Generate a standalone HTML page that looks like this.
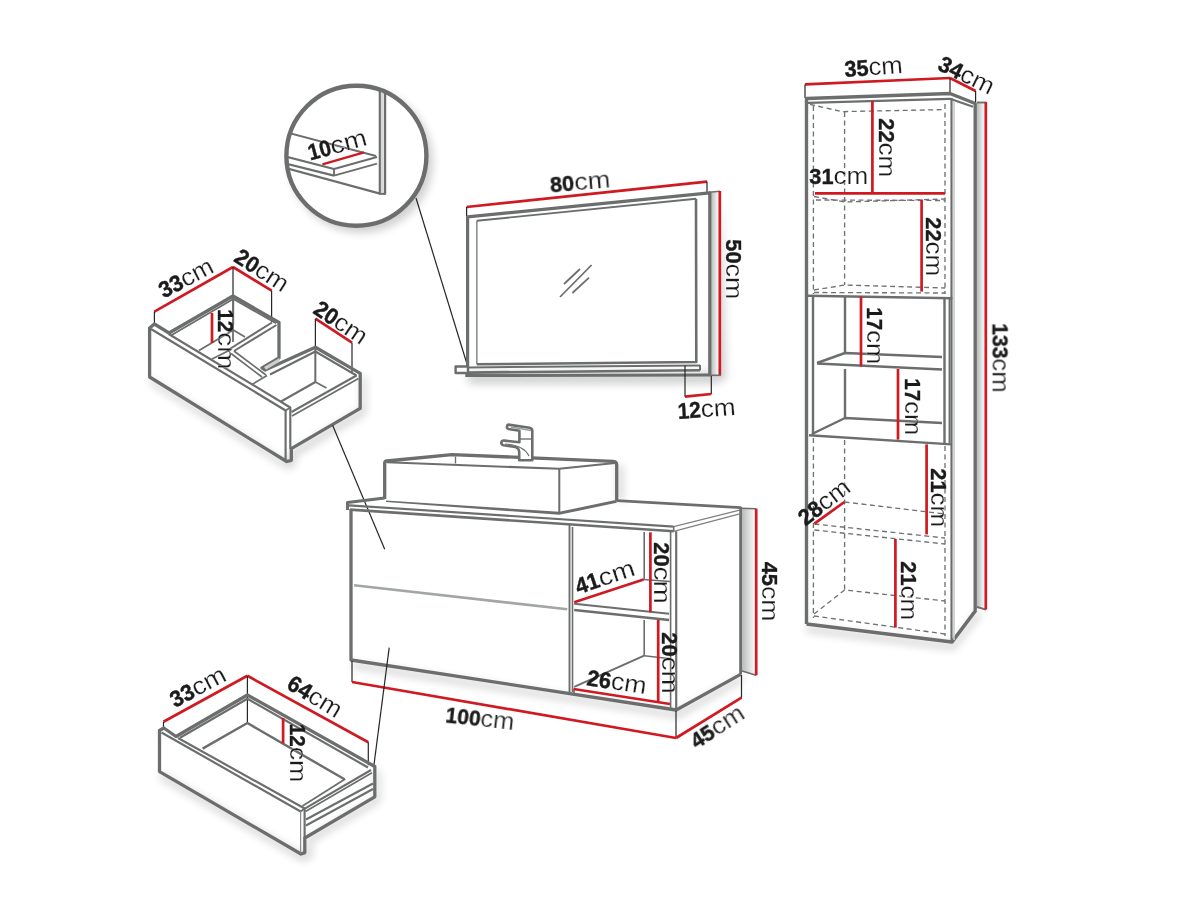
<!DOCTYPE html>
<html lang="en">
<head>
<meta charset="utf-8">
<title>Bathroom furniture set dimensions</title>
<style>
html,body{margin:0;padding:0;background:#fff;}
body{width:1200px;height:900px;overflow:hidden;}
svg{display:block;}
text{font-family:"Liberation Sans",sans-serif;}
.n{font-weight:700;stroke:#1a1a1a;stroke-width:.4px;}
.u{font-weight:400;stroke:#fff;stroke-width:.22px;}
</style>
</head>
<body>
<svg width="1200" height="900" viewBox="0 0 1200 900" stroke-linejoin="round">
<defs>
<filter id="sh" x="-20%" y="-20%" width="140%" height="140%"><feGaussianBlur stdDeviation="4"/></filter>
<filter id="sh2" x="-20%" y="-20%" width="140%" height="140%"><feGaussianBlur stdDeviation="2.5"/></filter>
<clipPath id="cc"><circle cx="356.4" cy="155.8" r="69"/></clipPath>
<linearGradient id="side" x1="0" x2="1" y1="0" y2="0"><stop offset="0" stop-color="#b9bbbb"/><stop offset="1" stop-color="#ffffff"/></linearGradient>
</defs>
<rect width="1200" height="900" fill="#ffffff"/>
<g fill="#000" opacity=".18" filter="url(#sh)">
<circle cx="361" cy="161" r="72"/>
<polygon points="468,372 712,372 722,195 726,380 712,384 468,384"/>
<polygon points="150,378 287,462 291,451 361,409 361,374 366,378 366,414 296,456 294,468 286,468 150,384"/>
<polygon points="160,772 302,854 307,853 307,838 375,798 375,768 380,772 380,802 312,842 312,858 302,861 160,779"/>
<polygon points="352,662 676,712 741,676 745,680 678,718 352,668"/>
<polygon points="806,626 952,644 977,611 982,614 954,650 806,632"/>
<polygon points="617,463 623,467 623,501 617,501"/>
</g>
<circle cx="356.4" cy="155.8" r="70" fill="#fff" stroke="#6c6e6e" stroke-width="4.4"/>
<g clip-path="url(#cc)">
<line x1="379.8" y1="85" x2="379.8" y2="193.5" stroke="#6c6e6e" stroke-width="2.16" />
<line x1="385" y1="85" x2="385" y2="194" stroke="#6c6e6e" stroke-width="2.43" />
<line x1="382" y1="90" x2="382" y2="192" stroke="#b5b7b7" stroke-width="1.08" />
<line x1="379" y1="193.6" x2="385.8" y2="194" stroke="#6c6e6e" stroke-width="2.16" />
<line x1="286" y1="168" x2="380" y2="193.6" stroke="#6c6e6e" stroke-width="2.16" />
<line x1="284" y1="131.8" x2="376" y2="156" stroke="#6c6e6e" stroke-width="1.89" />
<line x1="280" y1="155" x2="334" y2="169" stroke="#6c6e6e" stroke-width="2.16" />
<line x1="280" y1="162" x2="334" y2="175.6" stroke="#6c6e6e" stroke-width="2.16" />
<line x1="334" y1="169" x2="377" y2="157" stroke="#6c6e6e" stroke-width="1.89" />
<line x1="334" y1="175.6" x2="377" y2="163.6" stroke="#6c6e6e" stroke-width="1.89" />
<line x1="334" y1="169" x2="334" y2="175.6" stroke="#6c6e6e" stroke-width="1.89" />
</g>
<line x1="322.4" y1="164.4" x2="364" y2="152.4" stroke="#cf1a22" stroke-width="2.2" stroke-linecap="butt"/>
<line x1="416" y1="198" x2="467" y2="364" stroke="#262626" stroke-width="1.2" />
<polygon points="711,192.3 719,191.3 719,375 711,375" fill="url(#side)"/>
<line x1="466.6" y1="207" x2="707" y2="181.6" stroke="#cf1a22" stroke-width="2.7" stroke-linecap="butt"/>
<line x1="466.6" y1="207" x2="466.6" y2="216" stroke="#262626" stroke-width="1.2" />
<line x1="707" y1="181.6" x2="707" y2="192" stroke="#262626" stroke-width="1.2" />
<polyline points="467.6,366 467.6,216.8 709.8,192.8 709.8,376" fill="none" stroke="#6c6e6e" stroke-width="3.2" />
<polyline points="476.8,364.3 476.8,220.8" fill="none" stroke="#8d9091" stroke-width="1.62" />
<polyline points="476.8,220.8 696,198.8" fill="none" stroke="#6c6e6e" stroke-width="1.89" />
<polyline points="696,198.8 696.3,362 476.8,364.3" fill="none" stroke="#6c6e6e" stroke-width="2.6" />
<line x1="709" y1="192.3" x2="720" y2="191.3" stroke="#6c6e6e" stroke-width="1.62" />
<line x1="719.8" y1="191" x2="719.8" y2="375.5" stroke="#cf1a22" stroke-width="2.7" stroke-linecap="butt"/>
<line x1="711" y1="375.3" x2="721" y2="375.3" stroke="#6c6e6e" stroke-width="1.62" />
<line x1="564" y1="284" x2="580" y2="269" stroke="#6c6e6e" stroke-width="1.76" />
<line x1="560" y1="297" x2="591.6" y2="265" stroke="#6c6e6e" stroke-width="1.76" />
<line x1="572.4" y1="293" x2="589" y2="277.6" stroke="#6c6e6e" stroke-width="1.76" />
<polygon points="455.6,366.5 468,366.5 468,373 455.6,373" fill="#fff" stroke="#6c6e6e" stroke-width="2.4" />
<line x1="468" y1="367.4" x2="700" y2="365.4" stroke="#6c6e6e" stroke-width="2.03" />
<line x1="468" y1="372.6" x2="700" y2="370.2" stroke="#6c6e6e" stroke-width="2.6" />
<line x1="700" y1="365" x2="700" y2="370.5" stroke="#6c6e6e" stroke-width="2.03" />
<line x1="465.3" y1="375.6" x2="711" y2="375" stroke="#6c6e6e" stroke-width="3" />
<line x1="685" y1="365.5" x2="685" y2="396.7" stroke="#262626" stroke-width="1.2" />
<line x1="711.3" y1="376" x2="711.3" y2="394" stroke="#262626" stroke-width="1.2" />
<line x1="685" y1="396.7" x2="711.3" y2="394" stroke="#cf1a22" stroke-width="2.7" stroke-linecap="butt"/>
<line x1="154.4" y1="311.6" x2="233" y2="267" stroke="#cf1a22" stroke-width="2.7" stroke-linecap="butt"/>
<line x1="233" y1="267" x2="271.6" y2="290.6" stroke="#cf1a22" stroke-width="2.7" stroke-linecap="butt"/>
<line x1="315.4" y1="318.7" x2="352" y2="342.7" stroke="#cf1a22" stroke-width="2.7" stroke-linecap="butt"/>
<line x1="154.4" y1="311.6" x2="154.4" y2="324" stroke="#262626" stroke-width="1.2" />
<line x1="233" y1="267" x2="233" y2="342" stroke="#262626" stroke-width="1.2" />
<line x1="271.6" y1="290.6" x2="271.6" y2="322" stroke="#262626" stroke-width="1.2" />
<line x1="315.4" y1="318.7" x2="315.4" y2="381" stroke="#262626" stroke-width="1.2" />
<line x1="352" y1="342.7" x2="352" y2="374" stroke="#262626" stroke-width="1.2" />
<polygon points="149.6,328 154.4,324 169,333 233,296 279,322.5 279,358 262,368 265,370 315.4,347.3 360.2,373.4 360.2,408.4 291.3,448.7 291.3,460.3 286.7,461.5 149.6,377" fill="none" stroke="#6c6e6e" stroke-width="3.3" />
<polyline points="151,329 285.6,410.5 285.6,460.5" fill="none" stroke="#6c6e6e" stroke-width="2.16" />
<polyline points="168.7,334 290.3,407.5 290.3,449" fill="none" stroke="#6c6e6e" stroke-width="2.16" />
<line x1="285.6" y1="410.5" x2="290.3" y2="407.5" stroke="#6c6e6e" stroke-width="1.62" />
<polygon points="266,369.8 279.5,361.8 279.5,358 264,367" fill="#cdcfcf"/>
<polyline points="171.3,335.3 233.3,299 276,323.3" fill="none" stroke="#6c6e6e" stroke-width="1.89" />
<line x1="233.3" y1="298" x2="233.3" y2="325" stroke="#6c6e6e" stroke-width="1.76" />
<polyline points="272,322.5 230.5,348.5" fill="none" stroke="#6c6e6e" stroke-width="2.03" />
<polyline points="276.5,325 234,351" fill="none" stroke="#6c6e6e" stroke-width="2.03" />
<polyline points="199,350.5 233.3,330 245,337" fill="none" stroke="#6c6e6e" stroke-width="1.76" />
<polyline points="212,359 232,349" fill="none" stroke="#6c6e6e" stroke-width="1.62" />
<line x1="212" y1="313" x2="212" y2="343" stroke="#cf1a22" stroke-width="2.7" stroke-linecap="butt"/>
<polyline points="234,351 266,375" fill="none" stroke="#6c6e6e" stroke-width="1.76" />
<polyline points="231,353.5 262,377" fill="none" stroke="#6c6e6e" stroke-width="1.62" />
<polyline points="252,384.5 267,375.5" fill="none" stroke="#6c6e6e" stroke-width="1.62" />
<polyline points="270,374.5 315.4,351.5 356.5,375.5" fill="none" stroke="#6c6e6e" stroke-width="2.03" />
<line x1="315.4" y1="349" x2="315.4" y2="382" stroke="#6c6e6e" stroke-width="1.89" />
<polyline points="315.4,382 281,401.5" fill="none" stroke="#6c6e6e" stroke-width="2.03" />
<polyline points="315.4,382 326.5,388" fill="none" stroke="#6c6e6e" stroke-width="1.76" />
<polyline points="356.5,375.5 291.5,412" fill="none" stroke="#6c6e6e" stroke-width="2.03" />
<polyline points="358.5,378.5 292,416" fill="none" stroke="#6c6e6e" stroke-width="1.76" />
<line x1="332.6" y1="425.3" x2="384.7" y2="549.3" stroke="#262626" stroke-width="1.2" />
<polygon points="742,508.5 756,509 756,675 742,671" fill="url(#side)"/>
<line x1="741" y1="508.3" x2="756.2" y2="508.8" stroke="#6c6e6e" stroke-width="1.62" />
<line x1="742" y1="671" x2="756.2" y2="675.3" stroke="#6c6e6e" stroke-width="1.62" />
<line x1="756.2" y1="508.6" x2="756.2" y2="675.3" stroke="#cf1a22" stroke-width="2.7" stroke-linecap="butt"/>
<path d="M384.7,499 L384.7,463.2 Q384.7,461.2 386.7,461 L452,454.6 L613.2,461.3 Q616.7,461.5 616.7,465 L616.7,501.3" fill="none" stroke="#6c6e6e" stroke-width="3.3"/>
<polygon points="386,500.6 559.3,511.8 616.7,499.8 616.7,502.8 559.3,514.8 386,502" fill="#6c6e6e"/>
<polyline points="387,462.3 559.3,468.8 615,463" fill="none" stroke="#6c6e6e" stroke-width="2.03" />
<line x1="455.5" y1="456.5" x2="455.5" y2="463.5" stroke="#6c6e6e" stroke-width="1.35" />
<line x1="559.3" y1="468.8" x2="559.3" y2="513.3" stroke="#6c6e6e" stroke-width="2.03" />
<path d="M508.3,424.6 L529.5,427.8 Q532.3,428.3 532.3,431 L532.3,460.2 L519.2,460.2 L519.2,452 Q519,447.5 514,446.8 L503.5,445.3 Q501,444.8 501.4,442.3 Q501.8,440.3 504.5,440.6 L519.4,442.2 L519.4,430.8 L508.5,429 Q506.6,428.6 507,426.3 Q507.3,424.5 508.3,424.6 Z" fill="#fff" stroke="#6c6e6e" stroke-width="2.6"/>
<line x1="520" y1="439" x2="531" y2="439" stroke="#6c6e6e" stroke-width="1.35" />
<line x1="511" y1="427" x2="531" y2="430.5" stroke="#9a9d9d" stroke-width="1.35" />
<path d="M505,444 Q524,445 529,456" fill="none" stroke="#6c6e6e" stroke-width="1.2"/>
<polyline points="384.7,498 347.5,502.6 347.5,510" fill="none" stroke="#6c6e6e" stroke-width="3" />
<line x1="349" y1="505.3" x2="673.7" y2="526.7" stroke="#6c6e6e" stroke-width="2.16" />
<line x1="350" y1="509.6" x2="673.7" y2="531.3" stroke="#6c6e6e" stroke-width="2.6" />
<polyline points="617,500.7 740.6,507.6 740.6,674.4" fill="none" stroke="#6c6e6e" stroke-width="2.8" />
<line x1="673.7" y1="526.7" x2="740.6" y2="509.8" stroke="#808282" stroke-width="1.35" />
<line x1="673.7" y1="531.3" x2="740.6" y2="513.6" stroke="#808282" stroke-width="1.35" />
<line x1="673.7" y1="526.7" x2="673.7" y2="531.3" stroke="#6c6e6e" stroke-width="1.62" />
<polyline points="351,509 351,660 676.2,710 740.6,674.4" fill="none" stroke="#6c6e6e" stroke-width="3.3" />
<line x1="676.2" y1="531.3" x2="676.2" y2="710" stroke="#6c6e6e" stroke-width="2.16" />
<line x1="354" y1="585.3" x2="567.3" y2="609.3" stroke="#a3a6a6" stroke-width="2.6" />
<line x1="569.5" y1="525" x2="569.5" y2="694" stroke="#6c6e6e" stroke-width="1.89" />
<line x1="572.5" y1="527" x2="572.5" y2="692" stroke="#6c6e6e" stroke-width="1.62" />
<line x1="670.6" y1="531" x2="670.6" y2="708" stroke="#6c6e6e" stroke-width="1.62" />
<line x1="644.2" y1="532" x2="644.2" y2="580" stroke="#6c6e6e" stroke-width="1.62" />
<line x1="644.2" y1="620" x2="644.2" y2="655.7" stroke="#6c6e6e" stroke-width="1.62" />
<line x1="574.2" y1="603.8" x2="669.1" y2="613.7" stroke="#6c6e6e" stroke-width="1.89" />
<line x1="574.2" y1="610" x2="669.1" y2="620" stroke="#6c6e6e" stroke-width="2.43" />
<line x1="643.6" y1="579.5" x2="670" y2="581.5" stroke="#6c6e6e" stroke-width="1.62" />
<line x1="644.2" y1="655.7" x2="574.2" y2="686.8" stroke="#6c6e6e" stroke-width="1.89" />
<line x1="644.2" y1="655.7" x2="670.6" y2="658.8" stroke="#6c6e6e" stroke-width="1.62" />
<line x1="574" y1="689" x2="574" y2="694" stroke="#6c6e6e" stroke-width="1.62" />
<line x1="352" y1="661" x2="352" y2="682" stroke="#262626" stroke-width="1.2" />
<line x1="676" y1="711" x2="676" y2="738" stroke="#262626" stroke-width="1.2" />
<line x1="741.5" y1="675" x2="741.5" y2="697.7" stroke="#262626" stroke-width="1.2" />
<line x1="352" y1="682" x2="676" y2="738" stroke="#cf1a22" stroke-width="2.7" stroke-linecap="butt"/>
<line x1="676" y1="738" x2="741.5" y2="697.7" stroke="#cf1a22" stroke-width="2.7" stroke-linecap="butt"/>
<line x1="574.2" y1="602.2" x2="643.6" y2="579.5" stroke="#cf1a22" stroke-width="2.7" stroke-linecap="butt"/>
<line x1="573.6" y1="689" x2="670" y2="704" stroke="#cf1a22" stroke-width="2.7" stroke-linecap="butt"/>
<line x1="650.4" y1="532.3" x2="650.4" y2="612.2" stroke="#cf1a22" stroke-width="2.7" stroke-linecap="butt"/>
<line x1="658.2" y1="620" x2="658.2" y2="702.4" stroke="#cf1a22" stroke-width="2.7" stroke-linecap="butt"/>
<polygon points="977,103 985,103 985,609.6 977,607" fill="url(#side)"/>
<line x1="805" y1="84.4" x2="950" y2="78" stroke="#cf1a22" stroke-width="2.7" stroke-linecap="butt"/>
<line x1="950" y1="78" x2="975.6" y2="91" stroke="#cf1a22" stroke-width="2.7" stroke-linecap="butt"/>
<line x1="805" y1="84.4" x2="805" y2="98" stroke="#262626" stroke-width="1.2" />
<line x1="950" y1="78" x2="950" y2="94" stroke="#262626" stroke-width="1.2" />
<line x1="975.6" y1="91" x2="975.6" y2="102" stroke="#262626" stroke-width="1.2" />
<polyline points="806.5,624 806.5,98.5 950,93.5 975.2,103.5 975.2,610" fill="none" stroke="#6c6e6e" stroke-width="3.4" />
<polyline points="806.5,624 952,642 976,610" fill="none" stroke="#6c6e6e" stroke-width="3.6" />
<polyline points="808,102.8 950,98.8 973,106.8" fill="none" stroke="#6c6e6e" stroke-width="2.16" />
<line x1="951.5" y1="98" x2="951.5" y2="642" stroke="#6c6e6e" stroke-width="2.16" />
<line x1="954" y1="101" x2="954" y2="640" stroke="#c9cbcb" stroke-width="1.62" />
<line x1="977" y1="102.5" x2="986" y2="102.5" stroke="#6c6e6e" stroke-width="1.89" />
<line x1="977" y1="607" x2="986" y2="609.6" stroke="#6c6e6e" stroke-width="1.89" />
<line x1="985.8" y1="102" x2="985.8" y2="609.6" stroke="#cf1a22" stroke-width="2.7" stroke-linecap="butt"/>
<line x1="808" y1="295.8" x2="952.4" y2="298.2" stroke="#6c6e6e" stroke-width="2.6" />
<line x1="813" y1="297" x2="813" y2="435" stroke="#6c6e6e" stroke-width="2.43" />
<line x1="845" y1="297" x2="845" y2="353" stroke="#6c6e6e" stroke-width="2.43" />
<line x1="845" y1="369" x2="845" y2="418" stroke="#6c6e6e" stroke-width="2.43" />
<line x1="944.5" y1="298" x2="944.5" y2="443" stroke="#6c6e6e" stroke-width="2.43" />
<line x1="949.5" y1="298" x2="949.5" y2="443" stroke="#6c6e6e" stroke-width="1.89" />
<polyline points="817,363 845,353 942,357" fill="none" stroke="#6c6e6e" stroke-width="2.43" />
<line x1="817" y1="363.5" x2="942" y2="369.5" stroke="#6c6e6e" stroke-width="2.6" />
<polyline points="812,434 845,418 942,423" fill="none" stroke="#6c6e6e" stroke-width="2.43" />
<line x1="809" y1="435.3" x2="951.5" y2="444.4" stroke="#6c6e6e" stroke-width="2.4" />
<polyline points="810,104.4 842,111.6 945,109.6" fill="none" stroke="#6f7273" stroke-width="1.35" stroke-dasharray="5 3.5"/>
<polyline points="813.4,106 813.4,294" fill="none" stroke="#6f7273" stroke-width="1.35" stroke-dasharray="5 3.5"/>
<polyline points="844.6,112 844.6,285" fill="none" stroke="#6f7273" stroke-width="1.35" stroke-dasharray="5 3.5"/>
<polyline points="945,104 945,294" fill="none" stroke="#6f7273" stroke-width="1.35" stroke-dasharray="5 3.5"/>
<polyline points="814,196.5 845,202 945,199" fill="none" stroke="#6f7273" stroke-width="1.35" stroke-dasharray="5 3.5"/>
<polyline points="816,200 945,200.5" fill="none" stroke="#6f7273" stroke-width="1.35" stroke-dasharray="5 3.5"/>
<polyline points="814,290 845,285 945,288" fill="none" stroke="#6f7273" stroke-width="1.35" stroke-dasharray="5 3.5"/>
<polyline points="814,292.5 945,293" fill="none" stroke="#6f7273" stroke-width="1.35" stroke-dasharray="5 3.5"/>
<polyline points="813.4,438 813.4,618" fill="none" stroke="#6f7273" stroke-width="1.35" stroke-dasharray="5 3.5"/>
<polyline points="844.6,440 844.6,590" fill="none" stroke="#6f7273" stroke-width="1.35" stroke-dasharray="5 3.5"/>
<polyline points="945,446 945,636" fill="none" stroke="#6f7273" stroke-width="1.35" stroke-dasharray="5 3.5"/>
<polyline points="844.6,502 945,514" fill="none" stroke="#6f7273" stroke-width="1.35" stroke-dasharray="5 3.5"/>
<polyline points="814.4,524 945,538" fill="none" stroke="#6f7273" stroke-width="1.35" stroke-dasharray="5 3.5"/>
<polyline points="814.4,530 945,544" fill="none" stroke="#6f7273" stroke-width="1.35" stroke-dasharray="5 3.5"/>
<polyline points="814,614 844.6,590 945,601" fill="none" stroke="#6f7273" stroke-width="1.35" stroke-dasharray="5 3.5"/>
<polyline points="814,616 945,634" fill="none" stroke="#6f7273" stroke-width="1.35" stroke-dasharray="5 3.5"/>
<line x1="872.4" y1="101" x2="872.4" y2="193" stroke="#cf1a22" stroke-width="2.7" stroke-linecap="butt"/>
<line x1="815" y1="193.4" x2="945" y2="193.4" stroke="#cf1a22" stroke-width="2.7" stroke-linecap="butt"/>
<line x1="921.6" y1="199.6" x2="921.6" y2="291.6" stroke="#cf1a22" stroke-width="2.7" stroke-linecap="butt"/>
<line x1="861" y1="296.4" x2="861" y2="366.4" stroke="#cf1a22" stroke-width="2.7" stroke-linecap="butt"/>
<line x1="898" y1="369" x2="898" y2="439.6" stroke="#cf1a22" stroke-width="2.7" stroke-linecap="butt"/>
<line x1="926.6" y1="444.4" x2="926.6" y2="534.4" stroke="#cf1a22" stroke-width="2.7" stroke-linecap="butt"/>
<line x1="895.4" y1="539" x2="895.4" y2="627.6" stroke="#cf1a22" stroke-width="2.7" stroke-linecap="butt"/>
<line x1="814.4" y1="523.6" x2="844.4" y2="502" stroke="#cf1a22" stroke-width="2.7" stroke-linecap="butt"/>
<line x1="163.5" y1="721.8" x2="247.4" y2="675.8" stroke="#cf1a22" stroke-width="2.7" stroke-linecap="butt"/>
<line x1="247.4" y1="675.8" x2="368.3" y2="742.3" stroke="#cf1a22" stroke-width="2.7" stroke-linecap="butt"/>
<line x1="163.5" y1="721.8" x2="163.5" y2="728" stroke="#262626" stroke-width="1.2" />
<line x1="247.4" y1="675.8" x2="247.4" y2="723" stroke="#262626" stroke-width="1.2" />
<line x1="368.3" y1="742.3" x2="368.3" y2="765.3" stroke="#262626" stroke-width="1.2" />
<line x1="389.2" y1="647.7" x2="373.9" y2="765.3" stroke="#262626" stroke-width="1.2" />
<polygon points="159.5,730.5 163.8,728 176,736.5 247.4,695 374.8,766.5 374.8,796.8 304.8,838 304.8,852.6 301,854 159.5,771.6" fill="none" stroke="#6c6e6e" stroke-width="3.3" />
<polyline points="161.5,732.5 300.6,811.5" fill="none" stroke="#6c6e6e" stroke-width="2.16" />
<line x1="300.6" y1="811.5" x2="300.6" y2="853" stroke="#8a8c8c" stroke-width="1.22" />
<polyline points="178,738 304.6,808.5 304.6,838" fill="none" stroke="#6c6e6e" stroke-width="2.16" />
<line x1="300.6" y1="811.5" x2="304.6" y2="808.5" stroke="#6c6e6e" stroke-width="1.62" />
<polyline points="180,737.8 247.4,698.8 368,767.5" fill="none" stroke="#6c6e6e" stroke-width="2.16" />
<polyline points="202.6,748.6 247.4,723 344.5,779.3" fill="none" stroke="#6c6e6e" stroke-width="2.43" />
<line x1="304.8" y1="808.6" x2="371" y2="770" stroke="#6c6e6e" stroke-width="2.16" />
<line x1="305.5" y1="811.5" x2="372" y2="772.8" stroke="#6c6e6e" stroke-width="1.62" />
<line x1="306" y1="819.5" x2="373" y2="783.5" stroke="#6c6e6e" stroke-width="2.03" />
<line x1="306" y1="825.5" x2="373" y2="789" stroke="#6c6e6e" stroke-width="2.03" />
<line x1="345.2" y1="779.1" x2="302.5" y2="806" stroke="#6c6e6e" stroke-width="1.76" />
<line x1="283.1" y1="718" x2="283.1" y2="743.5" stroke="#cf1a22" stroke-width="2.7" stroke-linecap="butt"/>
<g opacity=".995">
<text transform="translate(310.3 160.4) rotate(-15)" font-size="22.6" fill="#1a1a1a"><tspan class="n" textLength="23.0" lengthAdjust="spacingAndGlyphs">10</tspan><tspan class="u" font-size="24.5" textLength="37.0" lengthAdjust="spacingAndGlyphs">cm</tspan></text>
<text transform="translate(550.7 192.5) rotate(-5)" font-size="22.6" fill="#1a1a1a"><tspan class="n" textLength="24.2" lengthAdjust="spacingAndGlyphs">80</tspan><tspan class="u" font-size="24.5" textLength="36.3" lengthAdjust="spacingAndGlyphs">cm</tspan></text>
<text transform="translate(725.6 239.3) rotate(90)" font-size="22.6" fill="#1a1a1a"><tspan class="n" textLength="24.2" lengthAdjust="spacingAndGlyphs">50</tspan><tspan class="u" font-size="24.5" textLength="35.8" lengthAdjust="spacingAndGlyphs">cm</tspan></text>
<text transform="translate(678.2 418.9) rotate(-4)" font-size="22.6" fill="#1a1a1a"><tspan class="n" textLength="23.0" lengthAdjust="spacingAndGlyphs">12</tspan><tspan class="u" font-size="24.5" textLength="35.0" lengthAdjust="spacingAndGlyphs">cm</tspan></text>
<text transform="translate(163.7 298.6) rotate(-27.5)" font-size="22.6" fill="#1a1a1a"><tspan class="n" textLength="24.2" lengthAdjust="spacingAndGlyphs">33</tspan><tspan class="u" font-size="24.5" textLength="34.2" lengthAdjust="spacingAndGlyphs">cm</tspan></text>
<text transform="translate(232.8 260.8) rotate(33)" font-size="22.6" fill="#1a1a1a"><tspan class="n" textLength="24.2" lengthAdjust="spacingAndGlyphs">20</tspan><tspan class="u" font-size="24.5" textLength="34.8" lengthAdjust="spacingAndGlyphs">cm</tspan></text>
<text transform="translate(311.9 312.6) rotate(33.8)" font-size="22.6" fill="#1a1a1a"><tspan class="n" textLength="24.2" lengthAdjust="spacingAndGlyphs">20</tspan><tspan class="u" font-size="24.5" textLength="34.8" lengthAdjust="spacingAndGlyphs">cm</tspan></text>
<text transform="translate(218.4 309.3) rotate(90)" font-size="22.6" fill="#1a1a1a"><tspan class="n" textLength="23.0" lengthAdjust="spacingAndGlyphs">12</tspan><tspan class="u" font-size="24.5" textLength="37.0" lengthAdjust="spacingAndGlyphs">cm</tspan></text>
<text transform="translate(578.2 594.4) rotate(-18.5)" font-size="22.6" fill="#1a1a1a"><tspan class="n" textLength="24.2" lengthAdjust="spacingAndGlyphs">41</tspan><tspan class="u" font-size="24.5" textLength="37.3" lengthAdjust="spacingAndGlyphs">cm</tspan></text>
<text transform="translate(586.0 685.2) rotate(8.6)" font-size="22.6" fill="#1a1a1a"><tspan class="n" textLength="24.2" lengthAdjust="spacingAndGlyphs">26</tspan><tspan class="u" font-size="24.5" textLength="35.8" lengthAdjust="spacingAndGlyphs">cm</tspan></text>
<text transform="translate(654.4 542.3) rotate(90)" font-size="22.6" fill="#1a1a1a"><tspan class="n" textLength="24.2" lengthAdjust="spacingAndGlyphs">20</tspan><tspan class="u" font-size="24.5" textLength="37.3" lengthAdjust="spacingAndGlyphs">cm</tspan></text>
<text transform="translate(662.0 632.3) rotate(90)" font-size="22.6" fill="#1a1a1a"><tspan class="n" textLength="24.2" lengthAdjust="spacingAndGlyphs">20</tspan><tspan class="u" font-size="24.5" textLength="37.3" lengthAdjust="spacingAndGlyphs">cm</tspan></text>
<text transform="translate(761.5 561.7) rotate(90)" font-size="22.6" fill="#1a1a1a"><tspan class="n" textLength="24.2" lengthAdjust="spacingAndGlyphs">45</tspan><tspan class="u" font-size="24.5" textLength="35.4" lengthAdjust="spacingAndGlyphs">cm</tspan></text>
<text transform="translate(696.4 749.4) rotate(-32.7)" font-size="22.6" fill="#1a1a1a"><tspan class="n" textLength="24.2" lengthAdjust="spacingAndGlyphs">45</tspan><tspan class="u" font-size="24.5" textLength="35.2" lengthAdjust="spacingAndGlyphs">cm</tspan></text>
<text transform="translate(444.9 722.2) rotate(6.5)" font-size="22.6" fill="#1a1a1a"><tspan class="n" textLength="35.1" lengthAdjust="spacingAndGlyphs">100</tspan><tspan class="u" font-size="24.5" textLength="33.9" lengthAdjust="spacingAndGlyphs">cm</tspan></text>
<text transform="translate(175.0 707.9) rotate(-27.8)" font-size="22.6" fill="#1a1a1a"><tspan class="n" textLength="24.2" lengthAdjust="spacingAndGlyphs">33</tspan><tspan class="u" font-size="24.5" textLength="35.8" lengthAdjust="spacingAndGlyphs">cm</tspan></text>
<text transform="translate(285.6 687.8) rotate(31.4)" font-size="22.6" fill="#1a1a1a"><tspan class="n" textLength="24.2" lengthAdjust="spacingAndGlyphs">64</tspan><tspan class="u" font-size="24.5" textLength="34.8" lengthAdjust="spacingAndGlyphs">cm</tspan></text>
<text transform="translate(289.5 723.7) rotate(90)" font-size="22.6" fill="#1a1a1a"><tspan class="n" textLength="23.0" lengthAdjust="spacingAndGlyphs">12</tspan><tspan class="u" font-size="24.5" textLength="35.7" lengthAdjust="spacingAndGlyphs">cm</tspan></text>
<text transform="translate(844.9 77.0) rotate(-4)" font-size="22.6" fill="#1a1a1a"><tspan class="n" textLength="24.2" lengthAdjust="spacingAndGlyphs">35</tspan><tspan class="u" font-size="24.5" textLength="34.3" lengthAdjust="spacingAndGlyphs">cm</tspan></text>
<text transform="translate(936.6 69.2) rotate(26)" font-size="22.6" fill="#1a1a1a"><tspan class="n" textLength="24.2" lengthAdjust="spacingAndGlyphs">34</tspan><tspan class="u" font-size="24.5" textLength="34.8" lengthAdjust="spacingAndGlyphs">cm</tspan></text>
<text transform="translate(879.0 118.3) rotate(90)" font-size="22.6" fill="#1a1a1a"><tspan class="n" textLength="24.2" lengthAdjust="spacingAndGlyphs">22</tspan><tspan class="u" font-size="24.5" textLength="34.8" lengthAdjust="spacingAndGlyphs">cm</tspan></text>
<text transform="translate(809.3 183.6) rotate(0)" font-size="22.6" fill="#1a1a1a"><tspan class="n" textLength="24.2" lengthAdjust="spacingAndGlyphs">31</tspan><tspan class="u" font-size="24.5" textLength="34.8" lengthAdjust="spacingAndGlyphs">cm</tspan></text>
<text transform="translate(926.0 217.3) rotate(90)" font-size="22.6" fill="#1a1a1a"><tspan class="n" textLength="24.2" lengthAdjust="spacingAndGlyphs">22</tspan><tspan class="u" font-size="24.5" textLength="34.8" lengthAdjust="spacingAndGlyphs">cm</tspan></text>
<text transform="translate(867.0 307.3) rotate(90)" font-size="22.6" fill="#1a1a1a"><tspan class="n" textLength="23.0" lengthAdjust="spacingAndGlyphs">17</tspan><tspan class="u" font-size="24.5" textLength="34.0" lengthAdjust="spacingAndGlyphs">cm</tspan></text>
<text transform="translate(905.0 378.3) rotate(90)" font-size="22.6" fill="#1a1a1a"><tspan class="n" textLength="23.0" lengthAdjust="spacingAndGlyphs">17</tspan><tspan class="u" font-size="24.5" textLength="34.0" lengthAdjust="spacingAndGlyphs">cm</tspan></text>
<text transform="translate(931.0 468.3) rotate(90)" font-size="22.6" fill="#1a1a1a"><tspan class="n" textLength="24.2" lengthAdjust="spacingAndGlyphs">21</tspan><tspan class="u" font-size="24.5" textLength="34.8" lengthAdjust="spacingAndGlyphs">cm</tspan></text>
<text transform="translate(901.0 561.3) rotate(90)" font-size="22.6" fill="#1a1a1a"><tspan class="n" textLength="24.2" lengthAdjust="spacingAndGlyphs">21</tspan><tspan class="u" font-size="24.5" textLength="34.8" lengthAdjust="spacingAndGlyphs">cm</tspan></text>
<text transform="translate(805.4 526.4) rotate(-37.5)" font-size="22.6" fill="#1a1a1a"><tspan class="n" textLength="24.2" lengthAdjust="spacingAndGlyphs">28</tspan><tspan class="u" font-size="24.5" textLength="34.8" lengthAdjust="spacingAndGlyphs">cm</tspan></text>
<text transform="translate(992.6 323.3) rotate(90)" font-size="22.6" fill="#1a1a1a"><tspan class="n" textLength="35.1" lengthAdjust="spacingAndGlyphs">133</tspan><tspan class="u" font-size="24.5" textLength="34.4" lengthAdjust="spacingAndGlyphs">cm</tspan></text>
</g>
</svg>
</body>
</html>
